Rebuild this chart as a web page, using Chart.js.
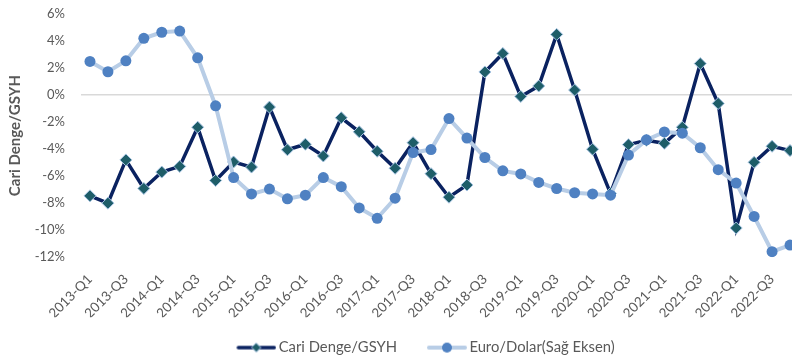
<!DOCTYPE html>
<html lang="tr">
<head>
<meta charset="utf-8">
<script src="https://cdn.jsdelivr.net/npm/chart.js@4/dist/chart.umd.min.js"></script>
<style>
  html, body { margin: 0; padding: 0; background: #fff; overflow: hidden; }
  /* sağ eksen ekranın dışına taşıyor, kasıtlı */
  #wrap { width: 844px; height: 365px; }
</style>
</head>
<body>
<div id="wrap"><canvas id="c"></canvas></div>
<script>
const quarters = [
  '2013-Q1', '2013-Q2', '2013-Q3', '2013-Q4', '2014-Q1', '2014-Q2', '2014-Q3', '2014-Q4',
  '2015-Q1', '2015-Q2', '2015-Q3', '2015-Q4', '2016-Q1', '2016-Q2', '2016-Q3', '2016-Q4',
  '2017-Q1', '2017-Q2', '2017-Q3', '2017-Q4', '2018-Q1', '2018-Q2', '2018-Q3', '2018-Q4',
  '2019-Q1', '2019-Q2', '2019-Q3', '2019-Q4', '2020-Q1', '2020-Q2', '2020-Q3', '2020-Q4',
  '2021-Q1', '2021-Q2', '2021-Q3', '2021-Q4', '2022-Q1', '2022-Q2', '2022-Q3', '2022-Q4'
];

// Cari denge / GSYH (%)
const cariDenge = [
  -7.46, -8.00, -4.80, -6.91, -5.70, -5.28, -2.38, -6.32, -4.95, -5.33,
  -0.89, -4.05, -3.64, -4.51, -1.68, -2.72, -4.16, -5.42, -3.52, -5.82,
  -7.56, -6.66, 1.71, 3.08, -0.10, 0.67, 4.49, 0.37, -4.01, -7.28,
  -3.67, -3.35, -3.57, -2.38, 2.33, -0.62, -9.84, -4.98, -3.79, -4.11
];

// Euro/Dolar paritesi (sağ eksen)
const euroDolar = [
  1.322, 1.305, 1.323, 1.360, 1.370, 1.372, 1.328, 1.249, 1.131, 1.104,
  1.112, 1.096, 1.102, 1.131, 1.116, 1.081, 1.064, 1.097, 1.172, 1.177,
  1.228, 1.196, 1.164, 1.142, 1.137, 1.123, 1.113, 1.106, 1.104, 1.102,
  1.168, 1.193, 1.206, 1.204, 1.180, 1.144, 1.122, 1.067, 1.009, 1.020
];

const leftTicks = [-12, -10, -8, -6, -4, -2, 0, 2, 4, 6];
const rightRange = [1.0, 1.4];

const NAVY = '#0A2260';
const TEAL = '#1E5D68';
const TEAL_EDGE = '#A6C3E3';
const PALE = '#B8CDE6';
const BLUE = '#4F81C2';
const GREY = '#595959';
const FONT = 'Lato, "Open Sans", sans-serif';

/* ── lejant simgesi: çizgi + ortada işaret (soldaki boşluk yazıyla aralığı ayarlıyor) ── */
function legendIcon(lineColor, lineW, drawMark) {
  const cv = document.createElement('canvas');
  cv.width = 52; cv.height = 12;
  const g = cv.getContext('2d');
  g.strokeStyle = lineColor;
  g.lineWidth = lineW;
  g.lineCap = 'round';
  g.beginPath(); g.moveTo(14, 6); g.lineTo(50, 6); g.stroke();
  drawMark(g, 32, 6);
  return cv;
}

const icons = [
  legendIcon(NAVY, 3.5, function (g, x, y) {
    g.fillStyle = TEAL; g.strokeStyle = TEAL_EDGE; g.lineWidth = 1;
    g.beginPath(); g.moveTo(x, y - 4.5); g.lineTo(x + 4.5, y); g.lineTo(x, y + 4.5); g.lineTo(x - 4.5, y); g.closePath();
    g.fill(); g.stroke();
  }),
  legendIcon(PALE, 4, function (g, x, y) {
    g.fillStyle = BLUE;
    g.beginPath(); g.arc(x, y, 5, 0, Math.PI * 2); g.fill();
  })
];

new Chart(document.getElementById('c'), {
  type: 'line',
  data: {
    labels: quarters,
    datasets: [
      {
        label: 'Cari Denge/GSYH',
        data: cariDenge,
        yAxisID: 'y',
        order: 1,
        borderColor: NAVY,
        borderWidth: 3.5,
        pointStyle: 'rectRot',
        pointRadius: 6,
        pointBackgroundColor: TEAL,
        pointBorderColor: TEAL_EDGE,
        pointBorderWidth: 1,
        tension: 0
      },
      {
        label: 'Euro/Dolar(Sağ Eksen)',
        data: euroDolar,
        yAxisID: 'y1',
        order: 0,
        borderColor: PALE,
        borderWidth: 4,
        pointStyle: 'circle',
        pointRadius: 5.5,
        pointBackgroundColor: BLUE,
        pointBorderColor: BLUE,
        pointBorderWidth: 0,
        tension: 0
      }
    ]
  },
  options: {
    responsive: true,
    maintainAspectRatio: false,
    animation: false,
    layout: { padding: { top: 14, left: 0, right: 0, bottom: 0 } },
    plugins: {
      tooltip: { enabled: false },
      legend: {
        position: 'bottom',
        reverse: true,
        labels: {
          usePointStyle: true,
          pointStyleWidth: 42,
          padding: 23,
          color: GREY,
          font: { family: FONT, size: 14.8 },
          generateLabels: function (chart) {
            const items = Chart.defaults.plugins.legend.labels.generateLabels(chart);
            items.forEach(function (it) { it.pointStyle = icons[it.datasetIndex]; });
            return items;
          }
        }
      }
    },
    scales: {
      x: {
        offset: true,
        grid: { display: false },
        border: { display: false },
        ticks: {
          autoSkip: false,
          maxRotation: 45,
          minRotation: 45,
          padding: 6,
          color: GREY,
          font: { family: FONT, size: 13.5 },
          callback: function (v, i) { return i % 2 === 0 ? quarters[i] : ''; }
        },
        afterFit: function (s) { s.height = 60; }
      },
      y: {
        position: 'left',
        min: leftTicks[0],
        max: leftTicks[leftTicks.length - 1],
        afterBuildTicks: function (s) { s.ticks = leftTicks.map(function (v) { return { value: v }; }); },
        grid: {
          drawTicks: true,
          tickLength: 14,
          tickColor: 'rgba(0,0,0,0)',
          lineWidth: 1.5,
          color: function (ctx) { return ctx.tick && ctx.tick.value === 0 ? '#D9D9D9' : 'rgba(0,0,0,0)'; }
        },
        border: { display: false },
        ticks: {
          padding: 2,
          color: GREY,
          font: { family: FONT, size: 13 },
          callback: function (v) { return v + '%'; }
        },
        title: {
          display: true,
          text: 'Cari Denge/GSYH',
          color: GREY,
          font: { family: FONT, size: 15, weight: 'bold' },
          padding: { top: 6, bottom: 0 }
        },
        afterFit: function (s) { s.width = 81; }
      },
      y1: {
        position: 'right',
        min: rightRange[0],
        max: rightRange[1],
        grid: { drawOnChartArea: false, drawTicks: false },
        border: { display: false },
        ticks: {
          stepSize: 0.05,
          padding: 2,
          color: GREY,
          font: { family: FONT, size: 13 },
          callback: function (v) { return v.toFixed(2).replace('.', ','); }
        },
        afterFit: function (s) { s.width = 45; }
      }
    }
  }
});
</script>
</body>
</html>
